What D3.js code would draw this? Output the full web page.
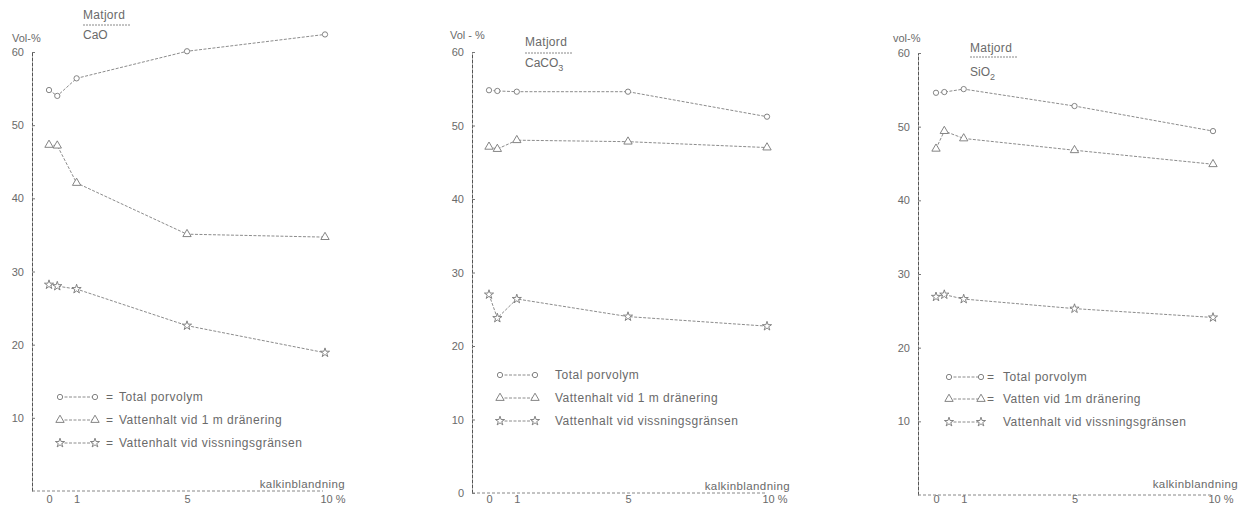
<!DOCTYPE html>
<html>
<head>
<meta charset="utf-8">
<script src="https://d3js.org/d3.v7.min.js"></script>
<style>
body {margin: 0; background-color: #ffffff; overflow: hidden;}
text {font-family: "Liberation Sans", Arial, sans-serif; fill: #6a6a6a;}
</style>
</head>
<body>
<div id="canvas"></div>
<script type="text/javascript">

// kalkinblandning (%) on the x axis
var kalk = [0, 0.3, 1, 5, 10];
var xTickVals = [0, 1, 5, 10];

// Matjord + CaO
var totalCaO   = [54.8, 54.0, 56.4, 60.1, 62.4];
var drainCaO   = [47.3, 47.2, 42.1, 35.1, 34.7];
var wiltCaO    = [28.2, 28.0, 27.6, 22.6, 18.9];
// Matjord + CaCO3
var totalCaCO3 = [54.8, 54.7, 54.6, 54.6, 51.2];
var drainCaCO3 = [47.1, 46.8, 48.0, 47.8, 47.0];
var wiltCaCO3  = [27.0, 23.8, 26.4, 24.0, 22.7];
// Matjord + SiO2
var totalSiO2  = [54.6, 54.7, 55.1, 52.8, 49.4];
var drainSiO2  = [47.0, 49.4, 48.4, 46.8, 44.9];
var wiltSiO2   = [26.9, 27.2, 26.6, 25.3, 24.1];

var additives = ["CaO", "CaCO", "SiO"];
var additiveSubs = ["", "3", "2"];
var volLabels = ["Vol-%", "Vol - %", "vol-%"];
var yTickSets = [[10, 20, 30, 40, 50, 60], [0, 10, 20, 30, 40, 50, 60], [10, 20, 30, 40, 50, 60]];
var legendTexts = [
    ["Total porvolym", "Vattenhalt vid 1 m dränering", "Vattenhalt vid vissningsgränsen"],
    ["Total porvolym", "Vattenhalt vid 1 m dränering", "Vattenhalt vid vissningsgränsen"],
    ["Total porvolym", "Vatten vid 1m dränering", "Vattenhalt vid vissningsgränsen"]
];
var legendEq = [[true, true, true], [false, false, false], [true, true, false]];

var series = [
    [totalCaO, drainCaO, wiltCaO],
    [totalCaCO3, drainCaCO3, wiltCaCO3],
    [totalSiO2, drainSiO2, wiltSiO2]
];

// where each panel sits on the page
var layout = [
    {axisX: 32,  x0: 49,  x10: 325,  yTop: 52, yBot: 491, volX: 12,  volY: 42, titleX: 83,  titleY: 19, subY: 39, ulY: 25, xlabX: 345,  xlabY: 488, legX1: 60,  legX2: 95,  eqX: 106, legTX: 119,  legY: [397, 420, 443]},
    {axisX: 472, x0: 489, x10: 767,  yTop: 52, yBot: 493, volX: 450, volY: 39, titleX: 525, titleY: 46, subY: 67, ulY: 53, xlabX: 790,  xlabY: 490, legX1: 500, legX2: 535, eqX: 0,   legTX: 555,  legY: [375, 398, 421]},
    {axisX: 918, x0: 936, x10: 1213, yTop: 53, yBot: 495, volX: 893, volY: 42, titleX: 970, titleY: 52, subY: 76, ulY: 57, xlabX: 1238, xlabY: 488, legX1: 949, legX2: 981, eqX: 987, legTX: 1003, legY: [377, 399, 422]}
];

var width = 1245, height = 508;
var lineColor = "#8c8c8c";
var tickBaseline = 503;

var svg = d3.select("#canvas").append("svg")
        .attr("width", width)
        .attr("height", height);

var symbols = [d3.symbolCircle, d3.symbolTriangle, d3.symbolStar];
var symSizes = [22, 30, 26];

layout.forEach(function (L, p) {
    var g = svg.append("g");

    var x = d3.scaleLinear().domain([0, 10]).range([L.x0, L.x10]);
    var y = d3.scaleLinear().domain([0, 60]).range([L.yBot, L.yTop]);

    // y axis (ticks point right, dotted scan look)
    var yAxis = g.append("g")
            .attr("transform", "translate(" + L.axisX + ",0)")
            .call(d3.axisLeft(y).tickValues(yTickSets[p]).tickSizeInner(-3).tickSizeOuter(0).tickPadding(8));
    yAxis.select(".domain").attr("stroke", "#555").attr("stroke-dasharray", "4,1");
    yAxis.selectAll(".tick line").attr("stroke", "#777");
    yAxis.selectAll("text").style("font-size", "11px").style("fill", "#6a6a6a");

    // x axis, labels kept inside the page
    var xAxis = g.append("g")
            .attr("transform", "translate(0," + L.yBot + ")")
            .call(d3.axisBottom(x).tickValues(xTickVals).tickSize(0)
                .tickPadding(Math.max(0, tickBaseline - 8 - L.yBot))
                .tickFormat(function (d) { return d === 10 ? "10 %" : d; }));
    xAxis.select(".domain").remove();
    xAxis.selectAll("text").style("font-size", "11px").style("fill", "#6a6a6a");
    xAxis.selectAll(".tick").filter(function (d) { return d === 10; })
        .select("text").attr("text-anchor", "start").attr("dx", -5);
    g.append("line")
        .attr("x1", L.axisX).attr("x2", x(10) - 2)
        .attr("y1", L.yBot).attr("y2", L.yBot)
        .attr("stroke", "#888").attr("stroke-dasharray", "3,2");

    // unit label, title
    g.append("text").attr("x", L.volX).attr("y", L.volY)
        .style("font-size", "11px").text(volLabels[p]);
    g.append("text").attr("x", L.titleX).attr("y", L.titleY)
        .style("font-size", "12px").style("letter-spacing", "0.3px").text("Matjord");
    g.append("line").attr("x1", L.titleX).attr("x2", L.titleX + 48)
        .attr("y1", L.ulY).attr("y2", L.ulY)
        .attr("stroke", "#888").attr("stroke-dasharray", "2,1");
    var sub = g.append("text").attr("x", L.titleX).attr("y", L.subY)
        .style("font-size", "12px").text(additives[p]);
    if (additiveSubs[p]) {
        sub.append("tspan").attr("dy", 4).style("font-size", "9px").text(additiveSubs[p]);
    }
    g.append("text").attr("x", L.xlabX).attr("y", L.xlabY)
        .attr("text-anchor", "end")
        .style("font-size", "11.5px").style("letter-spacing", "0.4px").text("kalkinblandning");

    // the three curves
    var line = d3.line()
            .x(function (d, i) { return x(kalk[i]); })
            .y(function (d) { return y(d); });

    series[p].forEach(function (vals, s) {
        g.append("path")
            .datum(vals)
            .attr("d", line)
            .attr("fill", "none")
            .attr("stroke", lineColor)
            .attr("stroke-width", 1)
            .attr("stroke-dasharray", "3,1.5");

        g.selectAll(".m" + s)
            .data(vals)
            .enter().append("path")
            .attr("class", "m" + s)
            .attr("d", d3.symbol().type(symbols[s]).size(symSizes[s]))
            .attr("transform", function (d, i) { return "translate(" + x(kalk[i]) + "," + y(d) + ")"; })
            .attr("fill", "#fff")
            .attr("stroke", "#777")
            .attr("stroke-width", 0.9);
    });

    // legend
    legendTexts[p].forEach(function (t, s) {
        var ly = L.legY[s];
        g.append("line").attr("x1", L.legX1).attr("x2", L.legX2)
            .attr("y1", ly).attr("y2", ly)
            .attr("stroke", lineColor).attr("stroke-dasharray", "3,1.5");
        [L.legX1, L.legX2].forEach(function (mx) {
            g.append("path")
                .attr("d", d3.symbol().type(symbols[s]).size(symSizes[s]))
                .attr("transform", "translate(" + mx + "," + ly + ")")
                .attr("fill", "#fff").attr("stroke", "#777").attr("stroke-width", 0.9);
        });
        if (legendEq[p][s]) {
            g.append("text").attr("x", L.eqX).attr("y", ly + 4)
                .style("font-size", "12px").text("=");
        }
        g.append("text").attr("x", L.legTX).attr("y", ly + 4)
            .style("font-size", "12px").style("letter-spacing", "0.5px").text(t);
    });
});

</script>
</body>
</html>
